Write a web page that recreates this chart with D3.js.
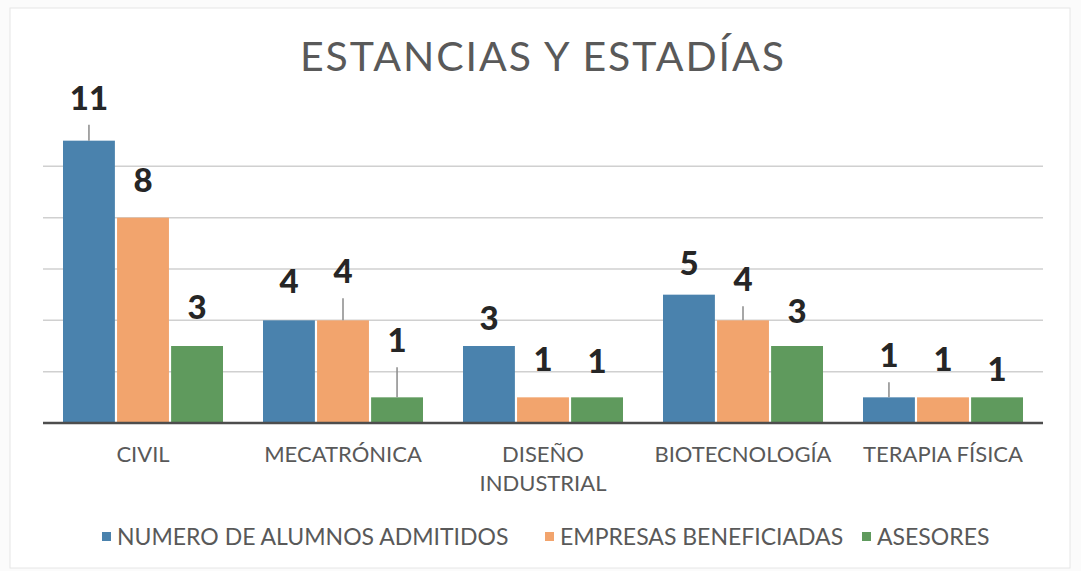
<!DOCTYPE html>
<html>
<head>
<meta charset="utf-8">
<script src="https://cdn.jsdelivr.net/npm/d3@7"></script>
<style>
  body { margin: 0; background: #fbfbfb; }
  text { font-family: Lato, "Open Sans", sans-serif; }
</style>
</head>
<body>
<svg id="chart" width="1081" height="571"></svg>
<script>
// data
var categories = ["CIVIL", "MECATRÓNICA", "DISEÑO INDUSTRIAL", "BIOTECNOLOGÍA", "TERAPIA FÍSICA"];
var seriesNames = ["NUMERO DE ALUMNOS ADMITIDOS", "EMPRESAS BENEFICIADAS", "ASESORES"];
var alumnos = [11, 4, 3, 5, 1];
var empresas = [8, 4, 1, 4, 1];
var asesores = [3, 1, 1, 3, 1];
var yTicks = [0, 2, 4, 6, 8, 10, 12];

var colors = ["#4a82ad", "#f2a46d", "#5f9a5d"];

// label placement tweaks (distance from bar top to text baseline, leader line on/off)
var labelGap = {
  "CIVIL": [[31, true], [26, false], [27, false]],
  "MECATRÓNICA": [[27, false], [37, true], [45, true]],
  "DISEÑO INDUSTRIAL": [[16, false], [26, false], [24, false]],
  "BIOTECNOLOGÍA": [[20, false], [29, true], [23, false]],
  "TERAPIA FÍSICA": [[30, true], [26, false], [16, false]]
};

var series = [alumnos, empresas, asesores];
var rows = [];
categories.forEach(function (c, i) {
  series.forEach(function (s, j) {
    rows.push({ cat: c, s: j, value: s[i] });
  });
});

var svg = d3.select("#chart");

svg.append("rect")
  .attr("x", 10).attr("y", 8)
  .attr("width", 1060).attr("height", 560)
  .attr("fill", "#ffffff")
  .attr("stroke", "#e6e6e6");

var x = d3.scaleBand().domain(categories).range([43, 1043])
  .paddingInner(0.2).paddingOuter(0.1);
var xs = d3.scaleBand().domain(d3.range(series.length)).range([0, x.bandwidth()])
  .paddingInner(0.04);
var y = d3.scaleLinear().domain([0, 12]).range([423, 115]);

// gridlines
svg.append("g")
  .selectAll("line")
  .data(yTicks.filter(function (t) { return t > 0 && t < 12; }))
  .enter()
  .append("line")
  .attr("x1", 43).attr("x2", 1043)
  .attr("y1", function (d) { return y(d); })
  .attr("y2", function (d) { return y(d); })
  .attr("stroke", "#d0d0d0")
  .attr("stroke-width", 1.5);

// bars
svg.append("g")
  .selectAll("rect")
  .data(rows)
  .enter()
  .append("rect")
  .attr("x", function (d) { return x(d.cat) + xs(d.s); })
  .attr("y", function (d) { return y(d.value); })
  .attr("width", xs.bandwidth())
  .attr("height", function (d) { return y(0) - y(d.value); })
  .attr("fill", function (d) { return colors[d.s]; });

// baseline
svg.append("line")
  .attr("x1", 43).attr("x2", 1043)
  .attr("y1", y(0)).attr("y2", y(0))
  .attr("stroke", "#4d4d4d")
  .attr("stroke-width", 2.5);

// value labels + leader lines
var lab = svg.append("g");
rows.forEach(function (d) {
  var cx = x(d.cat) + xs(d.s) + xs.bandwidth() / 2;
  var top = y(d.value);
  var g = labelGap[d.cat][d.s];
  lab.append("text")
    .attr("x", cx)
    .attr("y", top - g[0])
    .attr("text-anchor", "middle")
    .attr("font-size", 33)
    .attr("font-weight", 900)
    .attr("fill", "#262626")
    .text(d.value);
  if (g[1]) {
    lab.append("line")
      .attr("x1", cx).attr("x2", cx)
      .attr("y1", top - g[0] + 15).attr("y2", top)
      .attr("stroke", "#8a8a8a")
      .attr("stroke-width", 1.5);
  }
});

// category axis labels
var xAxis = svg.append("g");
categories.forEach(function (c) {
  var words = c === "DISEÑO INDUSTRIAL" ? ["DISEÑO", "INDUSTRIAL"] : [c];
  var t = xAxis.append("text")
    .attr("x", x(c) + x.bandwidth() / 2)
    .attr("y", 462)
    .attr("text-anchor", "middle")
    .attr("font-size", 22)
    .attr("fill", "#595959");
  words.forEach(function (w, k) {
    t.append("tspan")
      .attr("x", x(c) + x.bandwidth() / 2)
      .attr("dy", k === 0 ? 0 : 29)
      .text(w);
  });
});

// title
svg.append("text")
  .attr("x", 543).attr("y", 71)
  .attr("text-anchor", "middle")
  .attr("font-size", 41)
  .attr("letter-spacing", 2)
  .attr("fill", "#595959")
  .text("ESTANCIAS Y ESTADÍAS");

// legend
var legendX = [102, 545, 862];
var legend = svg.append("g");
seriesNames.forEach(function (n, i) {
  legend.append("rect")
    .attr("x", legendX[i]).attr("y", 532)
    .attr("width", 9).attr("height", 9)
    .attr("fill", colors[i]);
  legend.append("text")
    .attr("x", legendX[i] + 15).attr("y", 545)
    .attr("font-size", 23)
    .attr("fill", "#595959")
    .text(n);
});
</script>
</body>
</html>
